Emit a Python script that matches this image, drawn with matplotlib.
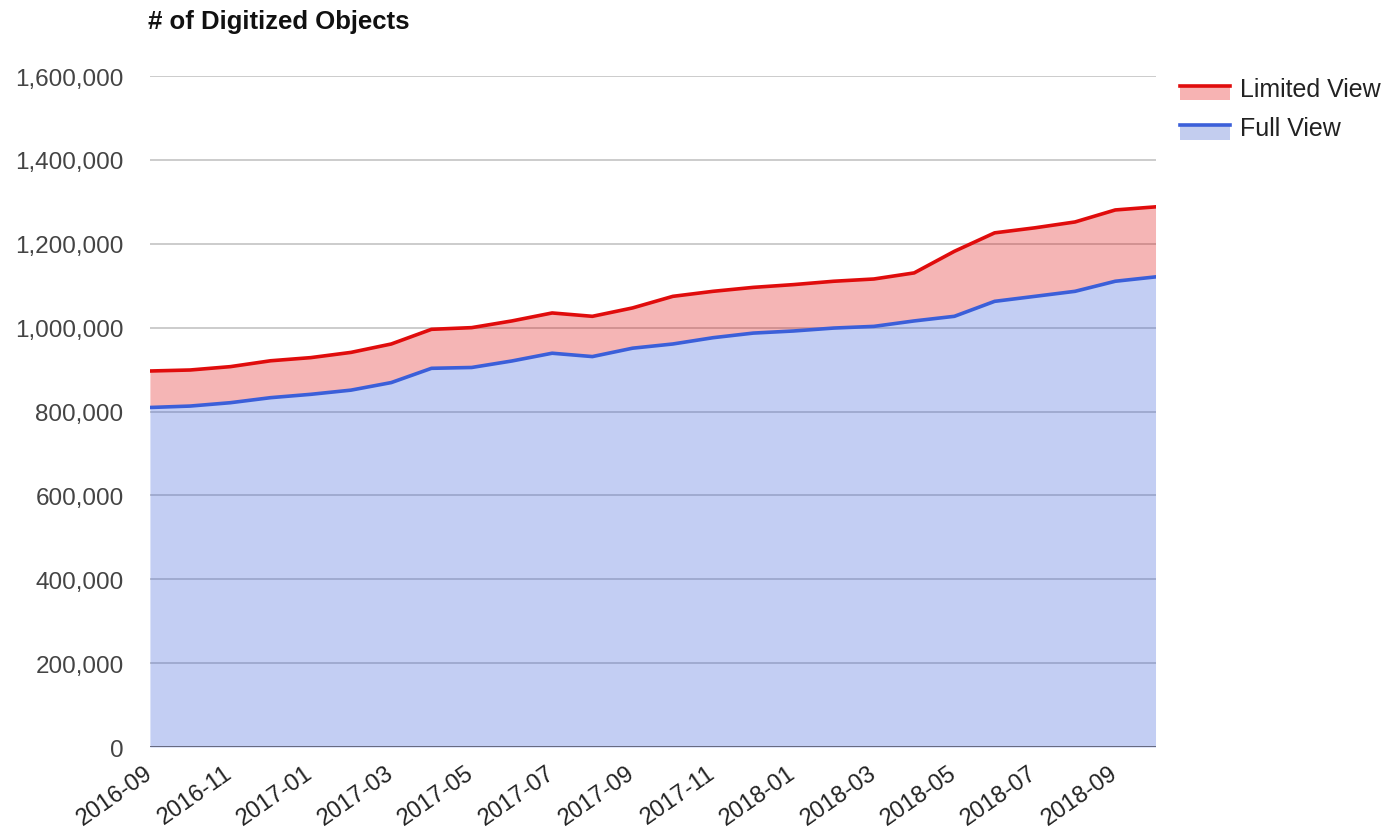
import matplotlib.pyplot as plt
import numpy as np
from matplotlib.legend_handler import HandlerBase
from matplotlib.patches import Rectangle
from matplotlib.lines import Line2D
from matplotlib.ticker import FuncFormatter

plt.rcParams['font.family'] = ['Liberation Sans', 'DejaVu Sans']

months = ["2016-09", "2016-10", "2016-11", "2016-12", "2017-01", "2017-02",
          "2017-03", "2017-04", "2017-05", "2017-06", "2017-07", "2017-08",
          "2017-09", "2017-10", "2017-11", "2017-12", "2018-01", "2018-02",
          "2018-03", "2018-04", "2018-05", "2018-06", "2018-07", "2018-08",
          "2018-09", "2018-10"]

# Full View objects (bottom layer)
full_view = [809600, 813000, 821000, 833000, 841000, 851000, 869000, 903000,
             905000, 920500, 939000, 931000, 951000, 961000, 976000, 987000,
             992000, 999000, 1003000, 1016000, 1027000, 1062700, 1074600,
             1086600, 1110600, 1121000]

# Limited View objects (stacked on top)
limited_view = [87000, 86000, 86000, 88000, 87500, 90000, 92000, 93000,
                95000, 95500, 96000, 96000, 96000, 113600, 110600, 109000,
                110600, 111600, 113000, 114500, 155000, 163300, 163400,
                165400, 170000, 167000]

red_line = '#e00c0c'
red_fill = '#f7b3b3'
blue_line = '#3b5fd9'
blue_fill = '#c3cdef'
text_col = '#444444'

x = np.arange(len(months))
full = np.array(full_view)
top = full + np.array(limited_view)

fig = plt.figure(figsize=(13.88, 8.37), dpi=100)
ax = fig.add_axes([0.108, 0.1063, 0.7245, 0.8017])

ax.fill_between(x, 0, full, color=blue_line, alpha=0.3, linewidth=0, zorder=2)
ax.fill_between(x, full, top, color=red_line, alpha=0.3, linewidth=0, zorder=2)
ax.plot(x, full, color=blue_line, linewidth=2.6, zorder=3)
ax.plot(x, top, color=red_line, linewidth=2.6, zorder=3)
ax.axhline(0, color='#555566', linewidth=1.8, zorder=4)

ax.set_xlim(0, len(months) - 1)
ax.set_ylim(0, 1600000)
ax.set_yticks(np.arange(0, 1600001, 200000))
ax.yaxis.set_major_formatter(FuncFormatter(lambda v, p: f"{int(v):,}"))
ax.set_xticks(x[::2])
ax.set_xticklabels(months[::2], rotation=35, ha='right', va='center',
                   rotation_mode='anchor')
ax.tick_params(axis='y', length=0, pad=19, labelsize=17.5, labelcolor=text_col)
ax.tick_params(axis='x', length=0, pad=17, labelsize=17, labelcolor='#222222')
ax.grid(axis='y', color='#cccccc', linewidth=1.4, zorder=0)
ax.set_axisbelow(True)
for s in ax.spines.values():
    s.set_visible(False)

fig.text(148 / 1388, 1 - 22 / 837, "# of Digitized Objects", fontsize=18.5,
         fontweight='bold', color='#111111', ha='left', va='center')


class AreaHandler(HandlerBase):
    def __init__(self, line_color, fill_color):
        super().__init__()
        self.line_color = line_color
        self.fill_color = fill_color

    def create_artists(self, legend, orig, xd, yd, w, h, fontsize, trans):
        rect = Rectangle((xd, yd - 0.25 * h), w, 0.9 * h, facecolor=self.fill_color,
                         edgecolor='none', transform=trans)
        ln = Line2D([xd, xd + w], [yd + 0.6 * h, yd + 0.6 * h],
                    color=self.line_color, linewidth=2.6, transform=trans)
        return [rect, ln]


h1 = Rectangle((0, 0), 1, 1)
h2 = Rectangle((0, 0), 1, 1)
leg = fig.legend([h1, h2], ["Limited View", "Full View"],
                 handler_map={h1: AreaHandler(red_line, red_fill),
                              h2: AreaHandler(blue_line, blue_fill)},
                 loc='upper left', bbox_to_anchor=(1180 / 1388, 1 - 78 / 837),
                 frameon=False, fontsize=18, handlelength=2.0, handletextpad=0.4,
                 labelspacing=0.62, borderaxespad=0, borderpad=0)
for t in leg.get_texts():
    t.set_color('#222222')

fig.savefig("out.png", dpi=100)
